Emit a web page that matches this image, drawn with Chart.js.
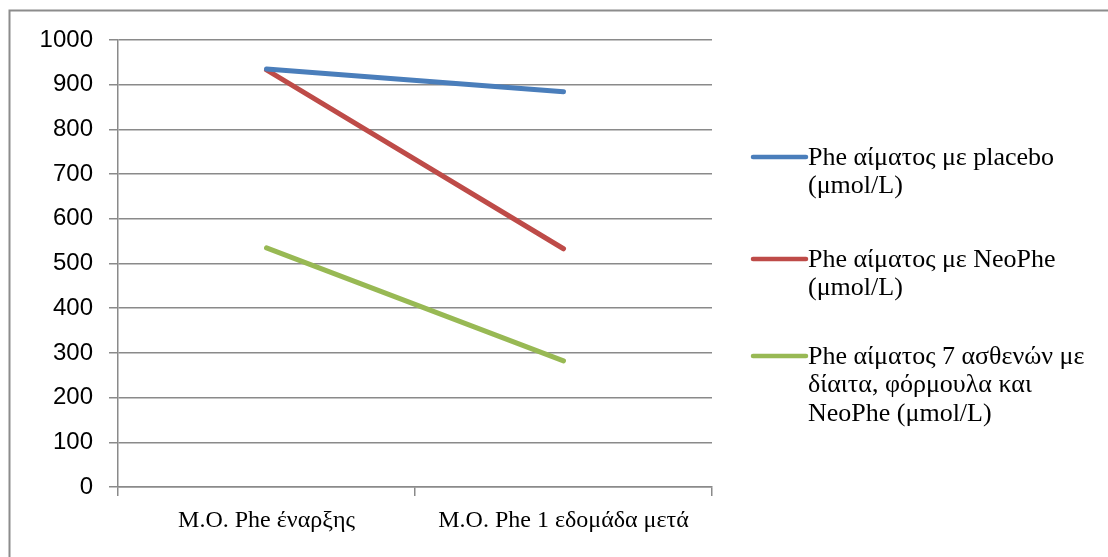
<!DOCTYPE html>
<html>
<head>
<meta charset="utf-8">
<script src="https://cdn.jsdelivr.net/npm/chart.js@4.4.1/dist/chart.umd.min.js"></script>
<style>
  html, body { margin: 0; padding: 0; background: #ffffff; }
  #wrap { position: relative; width: 1108px; height: 557px; }
</style>
</head>
<body>
<div id="wrap"><canvas id="c" width="1108" height="557"></canvas></div>
<script>
const categories = ["M.O. Phe έναρξης", "M.O. Phe 1 εδομάδα μετά"];
const seriesNames = [
  ["Phe αίματος με placebo", "(μmol/L)"],
  ["Phe αίματος με NeoPhe", "(μmol/L)"],
  ["Phe αίματος 7 ασθενών με", "δίαιτα, φόρμουλα και", "NeoPhe (μmol/L)"]
];
const placeboValues = [935, 884];
const neoPheValues = [933, 533];
const dietValues = [535, 282];
const yTicks = [0, 100, 200, 300, 400, 500, 600, 700, 800, 900, 1000];
const seriesColors = ["#4a7ebb", "#be4b48", "#98b954"];

const gridColor = "#8a8a8a";

const frame = {
  id: "frame",
  beforeDraw(chart) {
    const ctx = chart.ctx;
    ctx.save();
    ctx.fillStyle = "#ffffff";
    ctx.fillRect(0, 0, chart.width, chart.height);
    ctx.strokeStyle = "#8c8c8c";
    ctx.lineWidth = 2;
    ctx.beginPath();
    ctx.moveTo(9.5, chart.height);
    ctx.lineTo(9.5, 10.5);
    ctx.lineTo(chart.width, 10.5);
    ctx.stroke();
    ctx.restore();
  }
};

const sideLegend = {
  id: "sideLegend",
  afterDraw(chart) {
    const ctx = chart.ctx;
    const starts = [157, 259, 356];
    const lineGap = 28.5;
    ctx.save();
    ctx.font = '26px "Liberation Serif", "Times New Roman", serif';
    ctx.fillStyle = "#000000";
    ctx.textBaseline = "middle";
    ctx.textAlign = "left";
    chart.data.datasets.forEach((ds, i) => {
      const y = starts[i];
      ctx.strokeStyle = ds.borderColor;
      ctx.lineWidth = 4.5;
      ctx.lineCap = "round";
      ctx.beginPath();
      ctx.moveTo(753, y);
      ctx.lineTo(806, y);
      ctx.stroke();
      seriesNames[i].forEach((t, k) => {
        ctx.fillText(t, 808, y + 1 + k * lineGap);
      });
    });
    ctx.restore();
  }
};

new Chart(document.getElementById("c"), {
  type: "line",
  data: {
    labels: categories,
    datasets: [
      { label: seriesNames[0].join(" "), data: placeboValues, borderColor: seriesColors[0] },
      { label: seriesNames[1].join(" "), data: neoPheValues, borderColor: seriesColors[1] },
      { label: seriesNames[2].join(" "), data: dietValues, borderColor: seriesColors[2] }
    ]
  },
  options: {
    responsive: false,
    animation: false,
    devicePixelRatio: 1,
    layout: { padding: { left: 0, top: 40, right: 1108 - 712, bottom: 0 } },
    elements: {
      line: { borderWidth: 5, tension: 0, borderCapStyle: "round" },
      point: { radius: 0, hoverRadius: 0 }
    },
    plugins: {
      legend: { display: false },
      tooltip: { enabled: false },
      title: { display: false }
    },
    scales: {
      x: {
        offset: true,
        afterFit(scale) { scale.height = 557 - 487; },
        grid: {
          offset: true,
          drawOnChartArea: false,
          drawTicks: true,
          tickLength: 9,
          color: gridColor,
          lineWidth: 1.5
        },
        border: { display: true, color: gridColor, width: 1.5 },
        ticks: {
          padding: 10,
          color: "#000000",
          maxRotation: 0,
          font: { family: '"Liberation Serif", "Times New Roman", serif', size: 24 }
        }
      },
      y: {
        min: 0,
        max: 1000,
        afterFit(scale) { scale.width = 118; },
        afterBuildTicks(scale) { scale.ticks = yTicks.map(v => ({ value: v })); },
        grid: {
          color: gridColor,
          lineWidth: 1.5,
          tickLength: 9,
          drawTicks: true
        },
        border: { display: true, color: gridColor, width: 1.5 },
        ticks: {
          padding: 16,
          color: "#000000",
          callback: (v) => String(v),
          font: { family: '"Liberation Sans", Arial, sans-serif', size: 24 }
        }
      }
    }
  },
  plugins: [frame, sideLegend]
});
</script>
</body>
</html>
